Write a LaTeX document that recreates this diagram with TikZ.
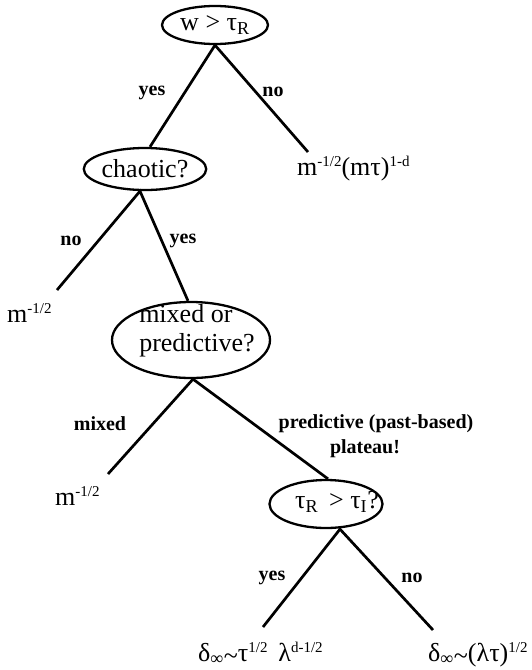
\documentclass[tikz,border=0pt]{standalone}
\usepackage{fontspec}
\setmainfont{Liberation Serif}
\usetikzlibrary{shapes.geometric}
\newcommand{\tl}{\raisebox{-0.3ex}{\textasciitilde}}
\newcommand{\mysup}[1]{\raisebox{0.75ex}{\fontsize{15}{15}\selectfont #1}}
\begin{document}
\begin{tikzpicture}[x=1pt,y=-1pt,
  q/.style={draw, ellipse, line width=2.3pt, inner sep=0pt},
  qtext/.style={inner sep=0pt, font=\fontsize{26}{29}\selectfont},
  lbl/.style={inner sep=0pt, font=\fontsize{20}{23}\selectfont\bfseries},
  res/.style={inner sep=0pt, font=\fontsize{26}{29}\selectfont},
  br/.style={line width=2.7pt}]
\useasboundingbox (0,0) rectangle (532,670);

% question ellipses
\node[q, qtext, minimum width=106pt, minimum height=38pt] (top) at (215,25) {w > τ\textsubscript{R}};
\node[q, qtext, minimum width=116pt, minimum height=42pt] (chaotic) at (145,169) {chaotic?};
\node[q, minimum width=158pt, minimum height=76pt] (mix) at (191,340) {};
\node[qtext, align=left] (mixtext) at (197,331) {mixed or\\predictive?};
\node[q, minimum width=113pt, minimum height=48pt] (tau) at (326,504) {};
\node[qtext] (tautext) at (337,502) {τ\textsubscript{R}\, > τ\textsubscript{I}?};

% leaf results
\node[res, anchor=base west] (r1) at (297,175) {m\mysup{-1/2}(mτ)\mysup{1-d}};
\node[res, anchor=base west] (r2) at (7,322) {m\mysup{-1/2}};
\node[res, anchor=base west] (r3) at (55,505) {m\mysup{-1/2}};
\node[res, anchor=base west] (r4) at (198,661) {δ\textsubscript{∞}\tl τ\mysup{1/2}\, λ\mysup{d-1/2}};
\node[res, anchor=base west] (r5) at (428,661) {δ\textsubscript{∞}\tl(λτ)\mysup{1/2}};

% free ends of branches
\coordinate (e1) at (308,152);
\coordinate (e2) at (57,290);
\coordinate (e3) at (108,474);
\coordinate (e4) at (263,627);
\coordinate (e5) at (433,630);

% branches
\draw[br] ([xshift=5pt]chaotic.north) -- (top.south) -- (e1);
\draw[br] (e2) -- ([xshift=-5pt]chaotic.south) -- ([xshift=-3pt]mix.north);
\draw[br] (e3) -- ([xshift=2pt]mix.south) -- ([xshift=2pt]tau.north);
\draw[br] (e4) -- ([xshift=14pt]tau.south) -- (e5);

% branch labels
\node[lbl] (l1) at (152,93) {yes};
\node[lbl] (l2) at (273,92) {no};
\node[lbl] (l3) at (71,241) {no};
\node[lbl] (l4) at (183,241) {yes};
\node[lbl] (l5) at (100,424) {mixed};
\node[lbl] (l6) at (376,424) {predictive (past-based)};
\node[lbl] (l7) at (365,449) {plateau!};
\node[lbl] (l8) at (272,578) {yes};
\node[lbl] (l9) at (412,578) {no};
\end{tikzpicture}
\end{document}
